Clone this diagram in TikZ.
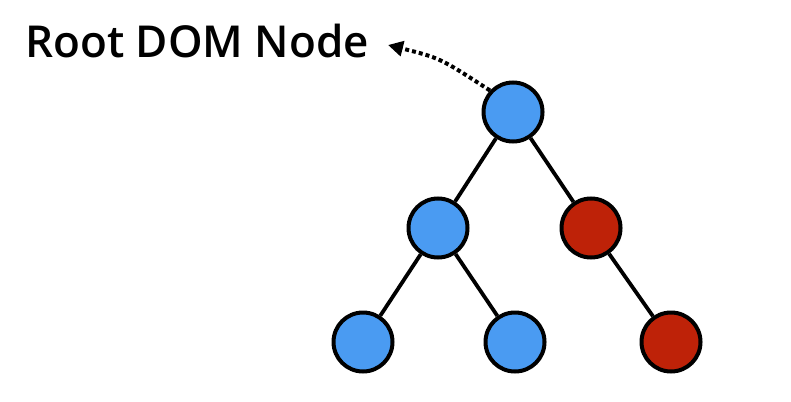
\documentclass[tikz,border=0pt]{standalone}
\usepackage{fontspec}
\setmainfont{Open Sans}
\newfontfamily\labelfont{Open Sans}[UprightFont={* Semibold}]
\usetikzlibrary{arrows.meta}
\definecolor{nodeblue}{RGB}{74,155,242}
\definecolor{nodered}{RGB}{190,34,8}
\begin{document}
\begin{tikzpicture}[x=1pt,y=-1pt,
  treenode/.style={circle,draw=black,line width=4pt,minimum size=59pt,inner sep=0pt},
  bluenode/.style={treenode,fill=nodeblue},
  rednode/.style={treenode,fill=nodered},
  edge/.style={line width=3.8pt,black},
  pointer/.style={line width=4pt,dash pattern=on 4pt off 3pt,-{Triangle[length=15pt,width=15pt]}},
  label/.style={inner sep=0pt,anchor=base west,font=\labelfont\fontsize{44}{50}\selectfont}]
\useasboundingbox[fill=white] (0,0) rectangle (791,401);
\node[bluenode] (root) at (513,112) {};
\node[bluenode] (l) at (438,228) {};
\node[rednode] (r) at (591,228) {};
\node[bluenode] (ll) at (363,342) {};
\node[bluenode] (lr) at (515,342) {};
\node[rednode] (rr) at (671,342) {};
\draw[edge] (root) -- (l);
\draw[edge] (root) -- (r);
\draw[edge] (l) -- (ll);
\draw[edge] (l) -- (lr);
\draw[edge] (r) -- (rr);
\node[label] (txt) at (25,58) {Root DOM Node};
\coordinate (tip) at (388,45);
\draw[pointer] (root.137) .. controls (440,58) .. (tip);
\end{tikzpicture}
\end{document}
